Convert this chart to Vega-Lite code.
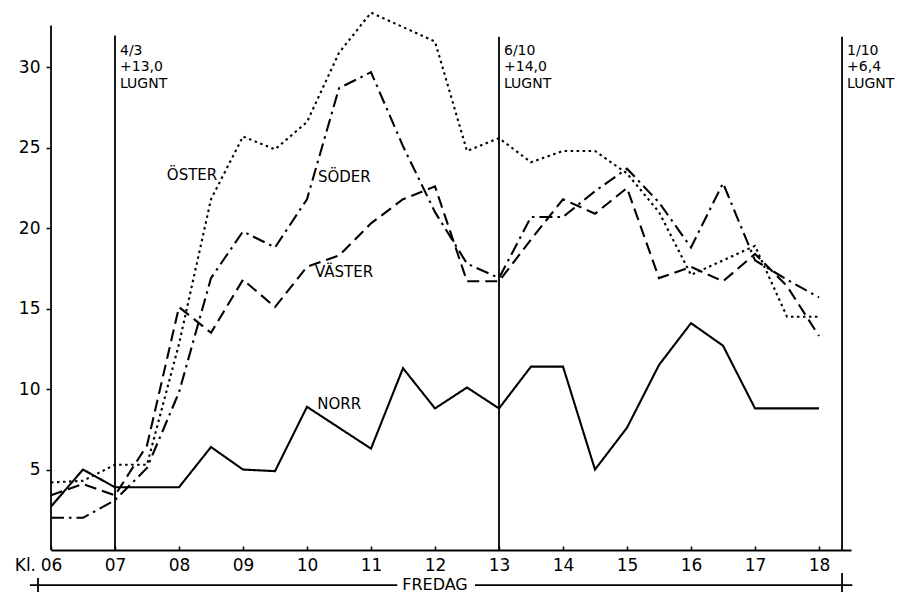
{
  "$schema": "https://vega.github.io/schema/vega-lite/v6.json",
  "width": 800,
  "height": 539,
  "autosize": {"type": "none"},
  "padding": {"left": 51, "top": 11, "right": 57, "bottom": 57},
  "background": "white",
  "config": {
    "view": {"stroke": null},
    "font": "DejaVu Sans",
    "axis": {"grid": false, "title": null, "domainColor": "black", "tickColor": "black", "labelColor": "black"}
  },
  "datasets": {
    "serier": [
      {"serie": "NORR", "t": 6, "v": 2.7}, {"serie": "NORR", "t": 6.5, "v": 5.0}, {"serie": "NORR", "t": 7, "v": 3.9}, {"serie": "NORR", "t": 7.5, "v": 3.9}, {"serie": "NORR", "t": 8, "v": 3.9},
      {"serie": "NORR", "t": 8.5, "v": 6.4}, {"serie": "NORR", "t": 9, "v": 5.0}, {"serie": "NORR", "t": 9.5, "v": 4.9}, {"serie": "NORR", "t": 10, "v": 8.9}, {"serie": "NORR", "t": 10.5, "v": 7.6},
      {"serie": "NORR", "t": 11, "v": 6.3}, {"serie": "NORR", "t": 11.5, "v": 11.3}, {"serie": "NORR", "t": 12, "v": 8.8}, {"serie": "NORR", "t": 12.5, "v": 10.1}, {"serie": "NORR", "t": 13, "v": 8.8},
      {"serie": "NORR", "t": 13.5, "v": 11.4}, {"serie": "NORR", "t": 14, "v": 11.4}, {"serie": "NORR", "t": 14.5, "v": 5.0}, {"serie": "NORR", "t": 15, "v": 7.6}, {"serie": "NORR", "t": 15.5, "v": 11.5},
      {"serie": "NORR", "t": 16, "v": 14.1}, {"serie": "NORR", "t": 16.5, "v": 12.7}, {"serie": "NORR", "t": 17, "v": 8.8}, {"serie": "NORR", "t": 17.5, "v": 8.8}, {"serie": "NORR", "t": 18, "v": 8.8},

      {"serie": "ÖSTER", "t": 6, "v": 4.2}, {"serie": "ÖSTER", "t": 6.5, "v": 4.3}, {"serie": "ÖSTER", "t": 7, "v": 5.3}, {"serie": "ÖSTER", "t": 7.5, "v": 5.3}, {"serie": "ÖSTER", "t": 8, "v": 12.8},
      {"serie": "ÖSTER", "t": 8.5, "v": 21.8}, {"serie": "ÖSTER", "t": 9, "v": 25.7}, {"serie": "ÖSTER", "t": 9.5, "v": 24.9}, {"serie": "ÖSTER", "t": 10, "v": 26.6}, {"serie": "ÖSTER", "t": 10.5, "v": 30.9},
      {"serie": "ÖSTER", "t": 11, "v": 33.4}, {"serie": "ÖSTER", "t": 11.5, "v": 32.5}, {"serie": "ÖSTER", "t": 12, "v": 31.6}, {"serie": "ÖSTER", "t": 12.5, "v": 24.8}, {"serie": "ÖSTER", "t": 13, "v": 25.6},
      {"serie": "ÖSTER", "t": 13.5, "v": 24.1}, {"serie": "ÖSTER", "t": 14, "v": 24.8}, {"serie": "ÖSTER", "t": 14.5, "v": 24.8}, {"serie": "ÖSTER", "t": 15, "v": 23.4}, {"serie": "ÖSTER", "t": 15.5, "v": 21.0},
      {"serie": "ÖSTER", "t": 16, "v": 17.1}, {"serie": "ÖSTER", "t": 16.5, "v": 18.0}, {"serie": "ÖSTER", "t": 17, "v": 18.9}, {"serie": "ÖSTER", "t": 17.5, "v": 14.5}, {"serie": "ÖSTER", "t": 18, "v": 14.5},

      {"serie": "SÖDER", "t": 6, "v": 2.0}, {"serie": "SÖDER", "t": 6.5, "v": 2.0}, {"serie": "SÖDER", "t": 7, "v": 3.1}, {"serie": "SÖDER", "t": 7.5, "v": 5.1}, {"serie": "SÖDER", "t": 8, "v": 9.8},
      {"serie": "SÖDER", "t": 8.5, "v": 16.9}, {"serie": "SÖDER", "t": 9, "v": 19.8}, {"serie": "SÖDER", "t": 9.5, "v": 18.8}, {"serie": "SÖDER", "t": 10, "v": 21.8}, {"serie": "SÖDER", "t": 10.5, "v": 28.7},
      {"serie": "SÖDER", "t": 11, "v": 29.7}, {"serie": "SÖDER", "t": 11.5, "v": 25.1}, {"serie": "SÖDER", "t": 12, "v": 21.0}, {"serie": "SÖDER", "t": 12.5, "v": 17.8}, {"serie": "SÖDER", "t": 13, "v": 16.9},
      {"serie": "SÖDER", "t": 13.5, "v": 20.7}, {"serie": "SÖDER", "t": 14, "v": 20.7}, {"serie": "SÖDER", "t": 14.5, "v": 22.3}, {"serie": "SÖDER", "t": 15, "v": 23.7}, {"serie": "SÖDER", "t": 15.5, "v": 21.6},
      {"serie": "SÖDER", "t": 16, "v": 18.8}, {"serie": "SÖDER", "t": 16.5, "v": 22.8}, {"serie": "SÖDER", "t": 17, "v": 18.0}, {"serie": "SÖDER", "t": 17.5, "v": 16.8}, {"serie": "SÖDER", "t": 18, "v": 15.7},

      {"serie": "VÄSTER", "t": 6, "v": 3.4}, {"serie": "VÄSTER", "t": 6.5, "v": 4.1}, {"serie": "VÄSTER", "t": 7, "v": 3.4}, {"serie": "VÄSTER", "t": 7.5, "v": 6.5}, {"serie": "VÄSTER", "t": 8, "v": 15.1},
      {"serie": "VÄSTER", "t": 8.5, "v": 13.5}, {"serie": "VÄSTER", "t": 9, "v": 16.8}, {"serie": "VÄSTER", "t": 9.5, "v": 15.1}, {"serie": "VÄSTER", "t": 10, "v": 17.6}, {"serie": "VÄSTER", "t": 10.5, "v": 18.3},
      {"serie": "VÄSTER", "t": 11, "v": 20.3}, {"serie": "VÄSTER", "t": 11.5, "v": 21.8}, {"serie": "VÄSTER", "t": 12, "v": 22.6}, {"serie": "VÄSTER", "t": 12.5, "v": 16.7}, {"serie": "VÄSTER", "t": 13, "v": 16.7},
      {"serie": "VÄSTER", "t": 13.5, "v": 19.3}, {"serie": "VÄSTER", "t": 14, "v": 21.8}, {"serie": "VÄSTER", "t": 14.5, "v": 20.9}, {"serie": "VÄSTER", "t": 15, "v": 22.5}, {"serie": "VÄSTER", "t": 15.5, "v": 16.9},
      {"serie": "VÄSTER", "t": 16, "v": 17.6}, {"serie": "VÄSTER", "t": 16.5, "v": 16.7}, {"serie": "VÄSTER", "t": 17, "v": 18.4}, {"serie": "VÄSTER", "t": 17.5, "v": 16.4}, {"serie": "VÄSTER", "t": 18, "v": 13.3}
    ],
    "linjer": [
      {"t": 6, "t2": 6, "v": 0, "v2": 32.6},
      {"t": 7, "t2": 7, "v": 0, "v2": 31.97},
      {"t": 13, "t2": 13, "v": 0, "v2": 31.9},
      {"t": 18.36, "t2": 18.36, "v": 0, "v2": 31.9},
      {"t": 5.797, "t2": 5.797, "v": -1.74, "v2": -2.61},
      {"t": 18.36, "t2": 18.36, "v": -1.43, "v2": -2.61},
      {"t": 5.67, "t2": 11.41, "v": -2.18, "v2": -2.18},
      {"t": 12.625, "t2": 18.52, "v": -2.18, "v2": -2.18}
    ],
    "namn": [
      {"namn": "ÖSTER", "t": 7.81, "v": 23.3},
      {"namn": "SÖDER", "t": 10.17, "v": 23.2},
      {"namn": "VÄSTER", "t": 10.125, "v": 17.3},
      {"namn": "NORR", "t": 10.16, "v": 9.1}
    ],
    "noter": [
      {"t": 7, "v": 31.47, "txt": "4/3\n+13,0\nLUGNT"},
      {"t": 13, "v": 31.47, "txt": "6/10\n+14,0\nLUGNT"},
      {"t": 18.36, "v": 31.47, "txt": "1/10\n+6,4\nLUGNT"}
    ]
  },
  "layer": [
    {
      "data": {"name": "linjer"},
      "mark": {"type": "rule", "color": "black", "strokeWidth": 1.8},
      "encoding": {
        "x": {"field": "t", "type": "quantitative", "scale": {"domain": [6, 18.5], "nice": false, "zero": false}},
        "x2": {"field": "t2"},
        "y": {"field": "v", "type": "quantitative", "scale": {"domain": [0, 33.5], "nice": false, "zero": false}},
        "y2": {"field": "v2"}
      }
    },
    {
      "data": {"name": "serier"},
      "mark": {"type": "line", "color": "black", "strokeWidth": 2.1, "strokeCap": "butt", "strokeJoin": "miter"},
      "encoding": {
        "x": {
          "field": "t", "type": "quantitative",
          "scale": {"domain": [6, 18.5], "nice": false, "zero": false},
          "axis": {
            "values": [6, 6.5, 7, 7.5, 8, 8.5, 9, 9.5, 10, 10.5, 11, 11.5, 12, 12.5, 13, 13.5, 14, 14.5, 15, 15.5, 16, 16.5, 17, 17.5, 18],
            "labelExpr": "datum.value % 1 ? '' : (datum.value < 10 ? '0' + datum.value : '' + datum.value)",
            "domainWidth": 2, "tickSize": -4, "tickWidth": 1.5,
            "labelFontSize": 17, "labelPadding": 11, "labelFlush": false, "labelOverlap": false, "labelBound": false
          }
        },
        "y": {
          "field": "v", "type": "quantitative",
          "scale": {"domain": [0, 33.5], "nice": false, "zero": false},
          "axis": {
            "values": [5, 10, 15, 20, 25, 30],
            "domain": false, "tickSize": 5, "tickWidth": 1.5,
            "labelFontSize": 17, "labelPadding": 6
          }
        },
        "detail": {"field": "serie"},
        "strokeDash": {
          "field": "serie", "type": "nominal", "legend": null,
          "scale": {"domain": ["NORR", "ÖSTER", "SÖDER", "VÄSTER"], "range": [[1, 0], [2.5, 3.5], [13, 5, 2.5, 5], [12, 6]]}
        }
      }
    },
    {
      "data": {"name": "namn"},
      "mark": {"type": "text", "align": "left", "baseline": "middle", "fontSize": 15, "color": "black"},
      "encoding": {
        "x": {"field": "t", "type": "quantitative"},
        "y": {"field": "v", "type": "quantitative"},
        "text": {"field": "namn"}
      }
    },
    {
      "data": {"name": "noter"},
      "mark": {"type": "text", "align": "left", "baseline": "top", "fontSize": 14, "lineHeight": 16.5, "lineBreak": "\n", "dx": 5, "color": "black"},
      "encoding": {
        "x": {"field": "t", "type": "quantitative"},
        "y": {"field": "v", "type": "quantitative"},
        "text": {"field": "txt"}
      }
    },
    {
      "data": {"values": [{"txt": "Kl.", "t": 5.766, "v": -1.31}]},
      "mark": {"type": "text", "align": "right", "baseline": "alphabetic", "fontSize": 17, "color": "black"},
      "encoding": {
        "x": {"field": "t", "type": "quantitative"},
        "y": {"field": "v", "type": "quantitative"},
        "text": {"field": "txt"}
      }
    },
    {
      "data": {"values": [{"txt": "FREDAG", "t": 12.0, "v": -2.49}]},
      "mark": {"type": "text", "align": "center", "baseline": "alphabetic", "fontSize": 16, "color": "black"},
      "encoding": {
        "x": {"field": "t", "type": "quantitative"},
        "y": {"field": "v", "type": "quantitative"},
        "text": {"field": "txt"}
      }
    }
  ]
}
